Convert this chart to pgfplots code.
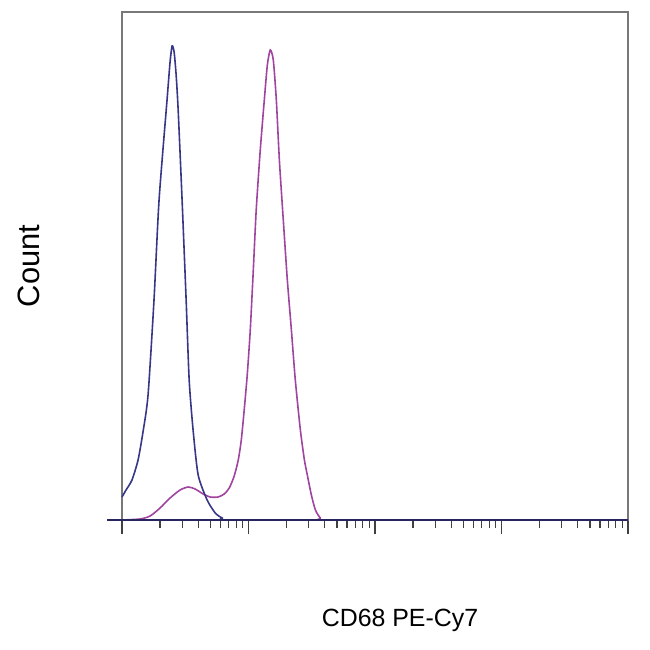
\documentclass[border=0pt]{standalone}
\usepackage{pgfplots}
\pgfplotsset{compat=1.18}
\usepackage{fontspec}
\setmainfont{Liberation Sans}
\definecolor{cblue}{RGB}{55,55,135}
\definecolor{cmag}{RGB}{160,68,160}
\definecolor{frame}{RGB}{120,120,120}
\begin{document}
\begin{tikzpicture}
\useasboundingbox (0bp,0bp) rectangle (650bp,650bp);
\begin{axis}[
  at={(122bp,130bp)}, anchor=south west,
  scale only axis, width=506bp, height=508bp,
  xmin=0, xmax=4, ymin=0, ymax=508,
  clip=false,
  xtick={0,1,2,3,4},
  minor xtick={0.301,0.477,0.602,0.699,0.778,0.845,0.903,0.954,
               1.301,1.477,1.602,1.699,1.778,1.845,1.903,1.954,
               2.301,2.477,2.602,2.699,2.778,2.845,2.903,2.954,
               3.301,3.477,3.602,3.699,3.778,3.845,3.903,3.954},
  xticklabels={}, ytick=\empty,
  xtick pos=bottom, tick align=outside,
  major tick length=14bp, minor tick length=8bp,
  tick style={draw=black!75, line width=1.2bp},
  axis line style={draw=frame, line width=1.6bp},
]
\addplot[cmag, line width=1.6bp, smooth, tension=0.4] coordinates {
(0.000,0) (0.143,1) (0.222,4) (0.301,12) (0.380,22) (0.459,30) (0.523,33)
(0.578,31) (0.642,26) (0.697,23) (0.760,23) (0.808,26) (0.848,32) (0.887,44)
(0.919,60) (0.943,80) (0.966,110) (0.990,145) (1.014,190) (1.038,250)
(1.061,310) (1.093,370) (1.125,420) (1.149,455) (1.172,470) (1.196,460)
(1.220,420) (1.244,360) (1.275,300) (1.307,240) (1.339,190) (1.370,140)
(1.410,90) (1.442,60) (1.465,45) (1.497,25) (1.529,10) (1.568,2) (1.608,0)
(2.5,0) (4.0,0)
};
\addplot[cblue, line width=1.6bp, smooth, tension=0.4] coordinates {
(0.000,23) (0.032,30) (0.079,40) (0.127,60) (0.166,88) (0.206,125)
(0.253,220) (0.293,320) (0.356,420) (0.380,458) (0.396,474) (0.412,468)
(0.428,445) (0.444,410) (0.475,320) (0.507,220) (0.531,140) (0.562,90)
(0.602,45) (0.673,20) (0.737,7) (0.792,2) (0.855,0) (2.0,0) (4.0,0)
};
\end{axis}
\draw[cblue!70!black, line width=2.4bp] (107bp,130bp) -- (628bp,130bp);
\node[rotate=90, anchor=base, font=\fontsize{31}{31}\selectfont] at (39bp,384bp) {Count};
\node[anchor=base, font=\fontsize{25}{25}\selectfont] at (400bp,24bp) {CD68 PE-Cy7};
\end{tikzpicture}
\end{document}
